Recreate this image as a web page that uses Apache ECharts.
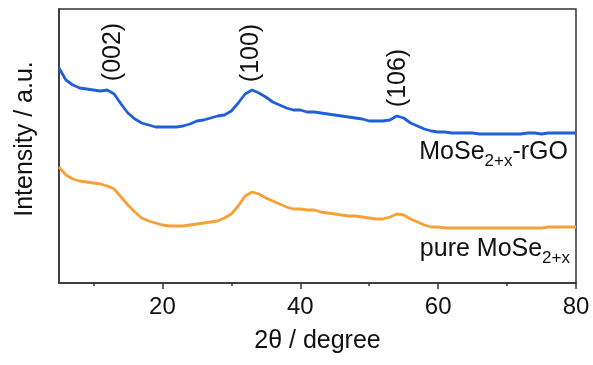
<!DOCTYPE html>
<html>
<head>
<meta charset="utf-8">
<script src="https://cdn.jsdelivr.net/npm/echarts@6/dist/echarts.min.js"></script>
<style>html,body{margin:0;padding:0;background:#fff}#c{width:593px;height:365px}</style>
</head>
<body>
<div id="c"></div>
<script>
// 2θ (degree)
var twoTheta = [5,6,7,8,9,10,11,12,13,14,15,16,17,18,19,20,21,22,23,24,25,26,27,28,29,30,31,32,33,34,35,36,37,38,39,40,41,42,43,44,45,46,47,48,49,50,51,52,53,54,55,56,57,58,59,60,61,62,63,64,65,66,67,68,69,70,71,72,73,74,75,76,77,78,79,80];
// Intensity (a.u.), MoSe2+x-rGO
var rgoIntensity = [215,203,198,195,194,193,192,193,189,179,170,164,160,158,156,156,156,156,157,159,162,163,165,167,168,172,180,189,193,190,186,181,178,175,173,173,171,171,170,169,168,167,166,165,164,162,162,162,163,167,165,160,157,154,152,151,151,150,150,150,150,149,149,149,149,149,149,149,150,150,149,150,150,150,150,150];
// Intensity (a.u.), pure MoSe2+x
var pureIntensity = [116,108,104,102,101,100,99,97,94,86,78,71,65,62,60,58,57,57,57,58,59,60,61,62,65,69,77,87,91,89,85,82,79,76,74,74,73,73,71,70,69,68,67,67,66,65,64,64,66,69,68,64,61,58,56,56,55,55,55,55,55,55,55,55,55,55,55,55,55,55,55,56,56,56,56,56];
var majorTicks = [20,40,60,80];
var minorTicks = [10,30,50,70];
var peakLabels = ['(002)','(100)','(106)'];

var font = 'Liberation Sans, Arial, sans-serif';
var chart = echarts.init(document.getElementById('c'), null, {renderer:'canvas'});
function pairs(xs, ys){ return xs.map(function(x,i){ return [x, ys[i]]; }); }
var richStyle = {
  b:{fontFamily:font, fontSize:25, fill:'#111', lineHeight:30, verticalAlign:'middle'},
  s:{fontFamily:font, fontSize:17, fill:'#111', lineHeight:17, padding:[18,0,0,0], verticalAlign:'middle'}
};
chart.setOption({
  animation: false,
  backgroundColor: '#fff',
  grid: {left: 59, right: 17, top: 9, bottom: 82, show: true, borderColor: '#333', borderWidth: 1.5, backgroundColor: 'transparent'},
  xAxis: [{
    type: 'value', min: 5, max: 80,
    name: '2θ / degree', nameLocation: 'middle', nameGap: 46,
    nameTextStyle: {fontFamily: font, fontSize: 25, color: '#111'},
    axisLine: {show: true, lineStyle: {color: '#333', width: 1.5}},
    axisTick: {show: true, customValues: majorTicks, length: 6, inside: false, lineStyle: {color: '#333', width: 1.5}},
    axisLabel: {customValues: majorTicks, fontFamily: font, fontSize: 24, color: '#111', margin: 12},
    splitLine: {show: false}
  },{
    type: 'value', min: 5, max: 80, position: 'bottom',
    axisLine: {show: false},
    axisTick: {show: true, customValues: minorTicks, length: 3, lineStyle: {color: '#333', width: 1.5}},
    axisLabel: {show: false},
    splitLine: {show: false}
  }],
  yAxis: {
    type: 'value', min: 0, max: 274,
    name: 'Intensity / a.u.', nameLocation: 'middle', nameGap: 21,
    nameTextStyle: {fontFamily: font, fontSize: 25, color: '#111', padding: [0,0,0,14]},
    axisLine: {show: true, lineStyle: {color: '#333', width: 1.5}},
    axisTick: {show: false}, axisLabel: {show: false}, splitLine: {show: false}
  },
  series: [{
    type: 'line', name: 'MoSe2+x-rGO', data: pairs(twoTheta, rgoIntensity),
    showSymbol: false, lineStyle: {color: '#1f5fd8', width: 2.8}, itemStyle: {color: '#1f5fd8'}
  },{
    type: 'line', name: 'pure MoSe2+x', data: pairs(twoTheta, pureIntensity),
    showSymbol: false, lineStyle: {color: '#f7a035', width: 2.8}, itemStyle: {color: '#f7a035'}
  }],
  graphic: [
    {type:'text', x:113, y:52, rotation: Math.PI/2, style:{text: peakLabels[0], font:'25px '+font, fill:'#111', align:'center', verticalAlign:'middle'}},
    {type:'text', x:251, y:53, rotation: Math.PI/2, style:{text: peakLabels[1], font:'25px '+font, fill:'#111', align:'center', verticalAlign:'middle'}},
    {type:'text', x:398, y:78, rotation: Math.PI/2, style:{text: peakLabels[2], font:'25px '+font, fill:'#111', align:'center', verticalAlign:'middle'}},
    {type:'text', x:568, y:152, style:{
      text:'{b|MoSe}{s|2+x}{b|-rGO}', align:'right', verticalAlign:'middle', rich: richStyle
    }},
    {type:'text', x:570, y:249, style:{
      text:'{b|pure MoSe}{s|2+x}', align:'right', verticalAlign:'middle', rich: richStyle
    }}
  ]
});
</script>
</body>
</html>
